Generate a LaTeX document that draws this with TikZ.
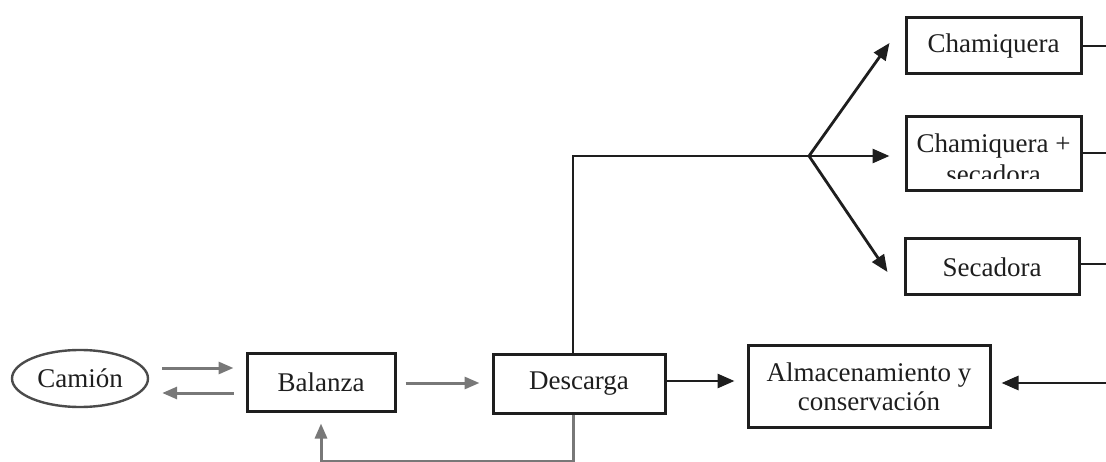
\documentclass[tikz,border=0pt]{standalone}
\usepackage{fontspec}
\setmainfont{Liberation Serif}
\usetikzlibrary{arrows.meta,shapes.geometric}
\definecolor{ink}{RGB}{30,30,30}
\definecolor{arrgray}{RGB}{120,120,120}
\begin{document}
\begin{tikzpicture}[x=1pt,y=-1pt,
  txt/.style={font=\fontsize{27}{29}\selectfont,text=ink},
  box/.style={txt,draw=ink,line width=3pt,rectangle,inner sep=0pt,align=center},
  oval/.style={txt,draw=ink!80,line width=2.4pt,ellipse,inner sep=0pt},
  blk/.style={draw=ink,line width=2.8pt,-{Triangle[length=17pt,width=14pt]}},
  gry/.style={draw=arrgray,line width=3pt,-{Triangle[length=15pt,width=12pt]}},
  bline/.style={draw=ink,line width=2.8pt}]
\useasboundingbox (0,0) rectangle (1106,462);

% nodes
\node[oval, minimum width=136pt, minimum height=57pt] (cam) at (80,378.5) {Camión};
\node[box, minimum width=148pt, minimum height=57pt] (bal) at (321,382.5) {Balanza};
\node[box, minimum width=172pt, minimum height=58pt] (des) at (579,384) {Descarga};
\node[box, minimum width=242pt, minimum height=81pt] (alm) at (869,386.5) {Almacenamiento y\\conservación};
\node[box, minimum width=175pt, minimum height=56pt] (cha) at (993.5,46) {Chamiquera};
\node[box, minimum width=175pt, minimum height=74pt] (chs) at (993.5,154) {};
\node[txt, anchor=base] (chs1) at (993.5,153) {Chamiquera +};
\begin{scope}
  \clip (906,117) rectangle (1081,179);
  \node[txt, anchor=base] (chs2) at (993.5,184) {secadora};
\end{scope}
\node[box, minimum width=174pt, minimum height=56pt] (sec) at (992,267) {Secadora};

\coordinate (rc) at (1106,0);
\coordinate (rin) at (1106,383);
\coordinate (br) at (809,156);
\coordinate (gb) at (321,461);

% connectors
\draw[gry] ([shift={(13,-10.5)}]cam.east) -- ([shift={(-12,-14.5)}]bal.west);
\draw[gry] ([shift={(-12,10.5)}]bal.west) -- ([shift={(13,14.5)}]cam.east);
\draw[gry] ([shift={(9,0.5)}]bal.east) -- ([shift={(-12,-1)}]des.west);
\draw[blk] ([shift={(0,-3)}]des.east) -- ([shift={(-12,-5.5)}]alm.west);
\draw[blk] (rin) -- ([shift={(10,-3.5)}]alm.east);

\draw[bline] ([xshift=-6pt]des.north) |- (br);
\draw[blk] (br) -- ([shift={(-15,-3)}]cha.west);
\draw[blk] (br) -- ([shift={(-15,2)}]chs.west);
\draw[blk] (br) -- ([shift={(-16,5)}]sec.west);

\draw[bline] (cha.east) -- (cha.east -| rc);
\draw[bline] ([yshift=1pt]chs.east) -- ([yshift=1pt]chs.east -| rc);
\draw[bline] ([shift={(0,-3)}]sec.east) -- ([shift={(0,-3)}]sec.east -| rc);

\draw[gry] ([xshift=-6pt]des.south) |- (gb) -- ([yshift=-11pt]bal.south);
\end{tikzpicture}
\end{document}
